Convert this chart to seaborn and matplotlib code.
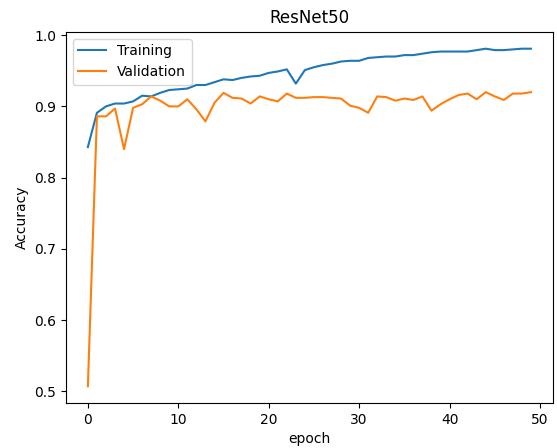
import pandas as pd
import matplotlib
matplotlib.use("Agg")
import matplotlib.pyplot as plt
import seaborn as sns
import numpy as np

# accuracy per epoch
epochs = list(range(50))
train_acc = [0.843, 0.891, 0.900, 0.904, 0.904, 0.907, 0.915, 0.914, 0.919, 0.923,
             0.924, 0.925, 0.930, 0.930, 0.934, 0.938, 0.937, 0.940, 0.942, 0.943,
             0.947, 0.949, 0.952, 0.932, 0.951, 0.955, 0.958, 0.960, 0.963, 0.964,
             0.964, 0.968, 0.969, 0.970, 0.970, 0.972, 0.972, 0.974, 0.976, 0.977,
             0.977, 0.977, 0.977, 0.979, 0.981, 0.979, 0.979, 0.980, 0.981, 0.981]
val_acc = [0.507, 0.886, 0.886, 0.897, 0.840, 0.898, 0.903, 0.914, 0.908, 0.900,
           0.900, 0.910, 0.896, 0.879, 0.905, 0.919, 0.912, 0.911, 0.904, 0.914,
           0.910, 0.907, 0.918, 0.912, 0.912, 0.913, 0.913, 0.912, 0.911, 0.901,
           0.898, 0.891, 0.914, 0.913, 0.908, 0.911, 0.909, 0.914, 0.894, 0.903,
           0.910, 0.916, 0.918, 0.910, 0.920, 0.914, 0.909, 0.918, 0.918, 0.920]

df = pd.DataFrame({
    "epoch": epochs + epochs,
    "Accuracy": train_acc + val_acc,
    "set": ["Training"] * 50 + ["Validation"] * 50,
})

fig, ax = plt.subplots(figsize=(5.57, 4.48), dpi=100)
sns.lineplot(data=df, x="epoch", y="Accuracy", hue="set",
             palette=["#1f77b4", "#ff7f0e"], ax=ax, linewidth=1.5)

ax.set_title("ResNet50")
ax.set_xlabel("epoch")
ax.set_ylabel("Accuracy")
ax.set_xticks(np.arange(0, 51, 10))
ax.set_yticks(np.arange(0.5, 1.01, 0.1))
ax.legend(loc="upper left")

plt.subplots_adjust(left=0.118, right=0.993, top=0.929, bottom=0.100)
plt.savefig("out.png", dpi=100)
plt.close()
